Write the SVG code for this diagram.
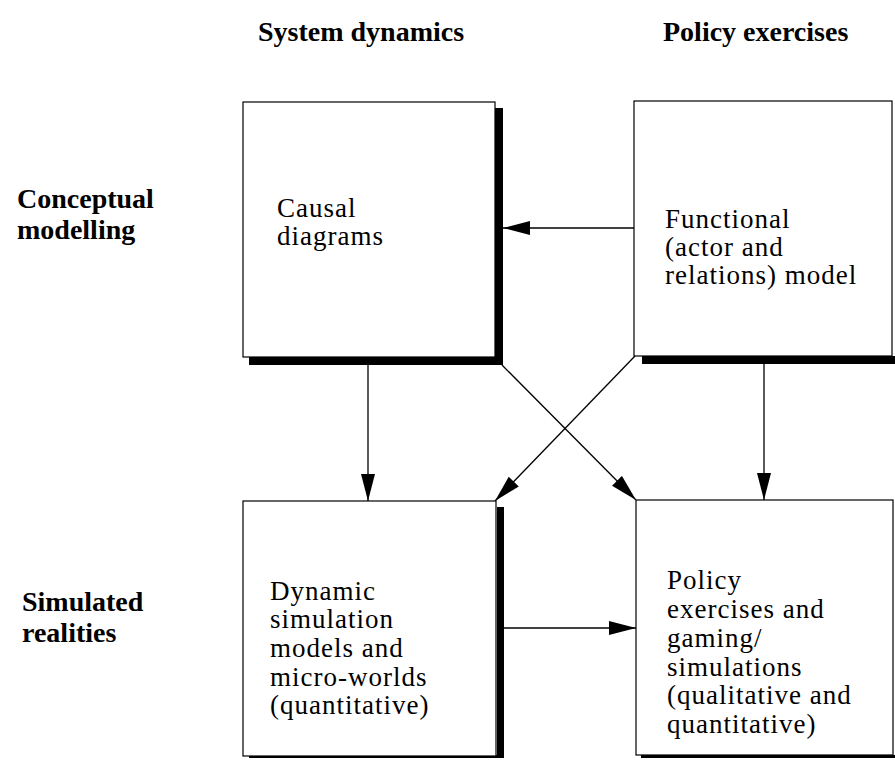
<svg xmlns="http://www.w3.org/2000/svg" width="895" height="760" viewBox="0 0 895 760">
<defs>
<marker id="ah" markerUnits="userSpaceOnUse" markerWidth="28" markerHeight="16" refX="27" refY="7" orient="auto">
<path d="M0,0 L27,7 L0,14 Z" fill="#000"/>
</marker>
<style>
.box{fill:#fff;stroke:#000;stroke-width:1.2}
.sh{fill:#000}
.hd{font-family:"Liberation Serif","Times New Roman",serif;font-weight:bold;font-size:28px;fill:#000}
.tx{font-family:"Liberation Serif","Times New Roman",serif;font-size:27px;letter-spacing:1px;fill:#000}
.cn{fill:none;stroke:#000;stroke-width:1.3;marker-end:url(#ah)}
</style>
</defs>
<rect width="895" height="760" fill="#fff"/>
<g id="headers">
<text class="hd" x="258" y="41">System dynamics</text>
<text class="hd" x="663" y="41">Policy exercises</text>
<text class="hd" x="17" y="208">Conceptual</text>
<text class="hd" x="17" y="239">modelling</text>
<text class="hd" x="22" y="611">Simulated</text>
<text class="hd" x="22" y="642">realities</text>
</g>
<g id="connectors">
<line class="cn" x1="634" y1="228" x2="503" y2="228"/>
<line class="cn" x1="368" y1="365" x2="368" y2="501"/>
<line class="cn" x1="764" y1="364" x2="764" y2="500"/>
<line class="cn" x1="502" y1="365" x2="636" y2="500"/>
<line class="cn" x1="635" y1="356" x2="495" y2="501"/>
<line class="cn" x1="503" y1="628" x2="636" y2="628"/>
</g>
<g id="causal">
<rect class="sh" x="249" y="357" width="254" height="8"/>
<rect class="sh" x="495" y="108" width="8" height="257"/>
<rect class="box" x="243" y="102" width="252" height="255"/>
<text class="tx" x="277" y="217">Causal</text>
<text class="tx" x="277" y="245">diagrams</text>
</g>
<g id="functional">
<rect class="sh" x="642" y="356" width="253" height="8"/>
<rect class="box" x="634" y="101" width="258" height="255"/>
<text class="tx" x="665" y="228">Functional</text>
<text class="tx" x="665" y="256">(actor and</text>
<text class="tx" x="665" y="284">relations) model</text>
</g>
<g id="dynamic">
<rect class="sh" x="497" y="507" width="7" height="251"/>
<rect class="sh" x="249" y="755" width="255" height="3"/>
<rect class="box" x="243" y="501" width="253" height="255"/>
<text class="tx" x="270" y="600">Dynamic</text>
<text class="tx" x="270" y="628">simulation</text>
<text class="tx" x="270" y="657">models and</text>
<text class="tx" x="270" y="686">micro-worlds</text>
<text class="tx" x="270" y="714">(quantitative)</text>
</g>
<g id="policy">
<rect class="sh" x="641" y="755" width="254" height="3"/>
<rect class="box" x="636" y="500" width="257" height="255"/>
<text class="tx" x="667" y="589">Policy</text>
<text class="tx" x="667" y="618">exercises and</text>
<text class="tx" x="667" y="647">gaming/</text>
<text class="tx" x="667" y="676">simulations</text>
<text class="tx" x="667" y="704">(qualitative and</text>
<text class="tx" x="667" y="733">quantitative)</text>
</g>
</svg>
